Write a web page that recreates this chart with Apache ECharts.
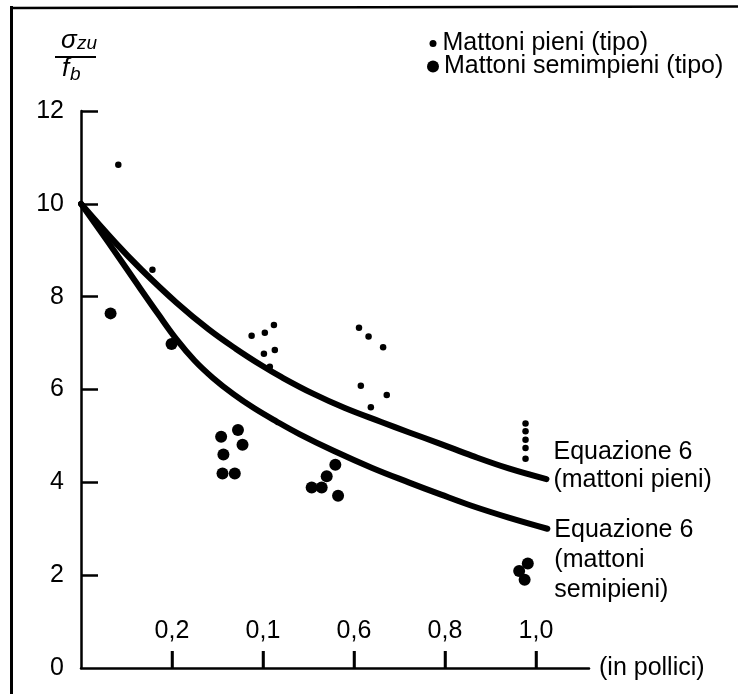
<!DOCTYPE html>
<html><head><meta charset="utf-8">
<script src="https://cdn.jsdelivr.net/npm/echarts@6/dist/echarts.min.js"></script>
<style>html,body{margin:0;padding:0;background:#fff}#c{width:738px;height:694px}</style>
</head><body><div id="c"></div>
<script>
// ---- data ----
const xTickValues = [0.2, 0.4, 0.6, 0.8, 1.0];
const xTickLabels = ['0,2', '0,1', '0,6', '0,8', '1,0'];
const yTickValues = [0, 2, 4, 6, 8, 10, 12];

const pieniX = [0.082, 0.157, 0.375, 0.404, 0.424, 0.402, 0.426, 0.415, 0.611, 0.632, 0.664, 0.615, 0.672, 0.637, 0.977, 0.977, 0.977, 0.977, 0.977];
const pieniY = [10.84, 8.58, 7.16, 7.22, 7.39, 6.77, 6.85, 6.49, 7.33, 7.14, 6.91, 6.08, 5.88, 5.62, 5.27, 5.10, 4.92, 4.74, 4.51];

const semiX = [0.065, 0.199, 0.308, 0.345, 0.355, 0.313, 0.311, 0.338, 0.507, 0.529, 0.540, 0.559, 0.565, 0.982, 0.963, 0.975];
const semiY = [7.64, 6.98, 4.98, 5.13, 4.81, 4.60, 4.19, 4.19, 3.89, 3.89, 4.13, 4.38, 3.71, 2.25, 2.09, 1.90];

const eqPieniX = [0, 0.075, 0.133, 0.21, 0.28, 0.34, 0.40, 0.44, 0.51, 0.58, 0.66, 0.72, 0.79, 0.86, 0.94, 1.023];
const eqPieniY = [10, 9.17, 8.58, 7.87, 7.30, 6.88, 6.50, 6.27, 5.91, 5.60, 5.30, 5.08, 4.83, 4.57, 4.30, 4.07];

const eqSemiX = [0, 0.06, 0.12, 0.17, 0.21, 0.25, 0.29, 0.335, 0.38, 0.43, 0.48, 0.555, 0.64, 0.72, 0.79, 0.86, 0.94, 1.025];
const eqSemiY = [10, 9.17, 8.32, 7.62, 7.08, 6.62, 6.25, 5.90, 5.60, 5.31, 5.04, 4.68, 4.31, 4.00, 3.74, 3.49, 3.24, 3.00];

const seriesNames = ['Mattoni pieni (tipo)', 'Mattoni semimpieni (tipo)'];
const eqLabels = ['Equazione 6\n(mattoni pieni)', 'Equazione 6\n(mattoni\nsemipieni)'];
const xAxisName = '(in pollici)';

// ---- chart ----
const FONT = '"Liberation Sans", Arial, Helvetica, sans-serif';
const FS = 25;
const zip = (a, b) => a.map((v, i) => [v, b[i]]);
const black = '#000';

const chart = echarts.init(document.getElementById('c'), null, {renderer: 'canvas'});
chart.setOption({
  animation: false,
  backgroundColor: '#fff',
  textStyle: {fontFamily: FONT, color: black},
  grid: {left: 81, right: 149, top: 111, bottom: 26, containLabel: false, outerBoundsMode: 'none'},
  legend: [
    {data: [seriesNames[0]], left: 429.5, top: 31, padding: 0, itemWidth: 7, itemHeight: 7, icon: 'circle',
     selectedMode: false, textStyle: {fontSize: FS, color: black, fontFamily: FONT, lineHeight: 24, padding: [0, 0, 0, 1]}},
    {data: [seriesNames[1]], left: 427, top: 54, padding: 0, itemWidth: 12, itemHeight: 12, icon: 'circle',
     selectedMode: false, textStyle: {fontSize: FS, color: black, fontFamily: FONT, lineHeight: 24, padding: [0, 0, 0, 0]}}
  ],
  xAxis: {
    type: 'value', min: 0, max: 1.1165,
    name: xAxisName, nameLocation: 'end', nameGap: 10,
    nameTextStyle: {fontSize: FS, color: black, fontFamily: FONT, verticalAlign: 'middle', padding: [0, 0, 6, 0]},
    axisLine: {show: true, onZero: false, lineStyle: {color: black, width: 2.5}},
    axisTick: {show: true, inside: true, length: 17, customValues: xTickValues, lineStyle: {color: black, width: 2.5}},
    axisLabel: {inside: true, customValues: xTickValues, margin: 10, padding: [0, 0, 14, 0], fontSize: FS, color: black, fontFamily: FONT,
      formatter: v => { const i = xTickValues.findIndex(t => Math.abs(t - v) < 1e-6); return i >= 0 ? xTickLabels[i] : ''; }},
    splitLine: {show: false}
  },
  yAxis: {
    type: 'value', min: 0, max: 12,
    axisLine: {show: true, lineStyle: {color: black, width: 2.5}},
    axisTick: {show: true, inside: true, length: 17, customValues: yTickValues.filter(v => v > 0), lineStyle: {color: black, width: 2.5}},
    axisLabel: {customValues: yTickValues, margin: 17, fontSize: FS, color: black, fontFamily: FONT},
    splitLine: {show: false}
  },
  series: [
    {name: 'x-ticks', type: 'custom', silent: true, clip: false, z: 1,
     data: xTickValues.map(v => [v, 0]),
     renderItem: (params, api) => {
       const p = api.coord([api.value(0), api.value(1)]);
       return {type: 'line', shape: {x1: p[0], y1: p[1], x2: p[0], y2: p[1] - 17},
               style: {stroke: black, lineWidth: 2.5}};
     }},
    {name: seriesNames[0], type: 'scatter', data: zip(pieniX, pieniY), symbol: 'circle', symbolSize: 6.5,
     itemStyle: {color: black, opacity: 1}, z: 3},
    {name: seriesNames[1], type: 'scatter', data: zip(semiX, semiY), symbol: 'circle', symbolSize: 12,
     itemStyle: {color: black, opacity: 1}, z: 3},
    {name: 'eq-pieni', type: 'line', data: zip(eqPieniX, eqPieniY), smooth: 0.4, showSymbol: false, symbol: 'none',
     lineStyle: {color: black, width: 6, cap: 'round', join: 'round'},
     endLabel: {show: true, formatter: eqLabels[0], fontSize: FS, lineHeight: 28, color: black, fontFamily: FONT,
       distance: 7, offset: [0, -13], align: 'left', verticalAlign: 'middle'}},
    {name: 'eq-semi', type: 'line', data: zip(eqSemiX, eqSemiY), smooth: 0.4, showSymbol: false, symbol: 'none',
     lineStyle: {color: black, width: 6, cap: 'round', join: 'round'},
     endLabel: {show: true, formatter: eqLabels[1], fontSize: FS, lineHeight: 30, color: black, fontFamily: FONT,
       distance: 7, offset: [0, 31], align: 'left', verticalAlign: 'middle'}}
  ],
  graphic: [
    {type: 'line', shape: {x1: 11.5, y1: 6, x2: 11.5, y2: 694}, style: {stroke: black, lineWidth: 3}},
    {type: 'line', shape: {x1: 10, y1: 8, x2: 738, y2: 6.5}, style: {stroke: black, lineWidth: 2.5}},
    {type: 'text', x: 61, y: 41, style: {text: 'σ', font: 'italic 26px ' + FONT, fill: black, verticalAlign: 'middle'}},
    {type: 'text', x: 77, y: 44, style: {text: 'zu', font: 'italic 19px ' + FONT, fill: black, verticalAlign: 'middle'}},
    {type: 'line', shape: {x1: 55, y1: 57, x2: 96, y2: 57}, style: {stroke: black, lineWidth: 2}},
    {type: 'text', x: 62, y: 69, style: {text: 'f', font: 'italic 26px ' + FONT, fill: black, verticalAlign: 'middle'}},
    {type: 'text', x: 70, y: 75, style: {text: 'b', font: 'italic 19px ' + FONT, fill: black, verticalAlign: 'middle'}}
  ]
});
</script>
</body></html>
